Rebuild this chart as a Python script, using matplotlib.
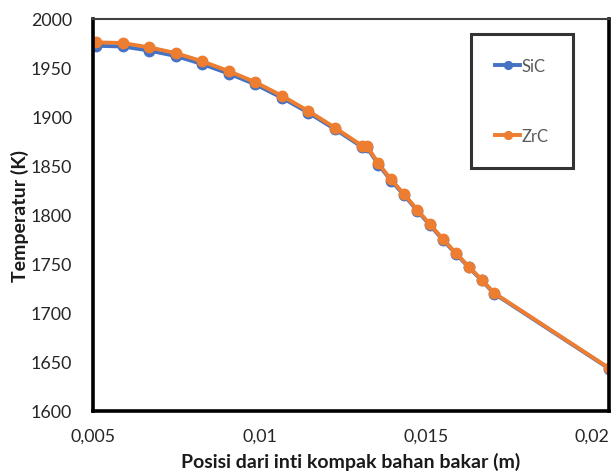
import matplotlib
matplotlib.use("Agg")
import matplotlib.pyplot as plt
from matplotlib.ticker import FixedLocator, FuncFormatter

plt.rcParams['font.family'] = ['Lato', 'DejaVu Sans']

# Radial position (m) and temperature (K) for the two coating materials
posisi = [0.00509, 0.00589, 0.00669, 0.00748, 0.00828, 0.00909, 0.00988,
          0.01067, 0.01147, 0.01227, 0.01308, 0.01323, 0.01357, 0.01395,
          0.01435, 0.01474, 0.01512, 0.01551, 0.01590, 0.01629, 0.01668,
          0.01705, 0.02050]
suhu_zrc = [1975.7, 1975.0, 1970.6, 1964.8, 1956.4, 1946.2, 1935.0,
            1921.3, 1905.7, 1888.7, 1870.4, 1870.0, 1852.4, 1836.0,
            1820.8, 1805.1, 1790.3, 1775.3, 1761.0, 1747.1, 1733.7,
            1720.3, 1643.8]
suhu_sic = [1972.2, 1971.5, 1967.3, 1961.8, 1953.6, 1943.7, 1932.8,
            1919.3, 1904.0, 1887.2, 1869.1, 1868.7, 1851.2, 1834.9,
            1819.8, 1804.1, 1789.4, 1774.4, 1760.2, 1746.3, 1733.0,
            1719.6, 1643.3]

x_ticks = [0.005, 0.01, 0.015, 0.02]
y_ticks = [1600, 1650, 1700, 1750, 1800, 1850, 1900, 1950, 2000]

fig = plt.figure(figsize=(6.12, 4.77), dpi=100)
ax = fig.add_axes([93 / 612, 1 - 412 / 477, (609 - 93) / 612, (412 - 19.5) / 477])

ax.plot(posisi, suhu_sic, color='#4472C4', lw=2.8, marker='o', ms=7.5,
        mec='#4472C4', mfc='#4472C4', label='SiC', zorder=3)
ax.plot(posisi, suhu_zrc, color='#ED7D31', lw=2.8, marker='o', ms=7.5,
        mec='#ED7D31', mfc='#ED7D31', label='ZrC', zorder=4)

ax.set_xlim(0.005, 0.0205)
ax.set_ylim(1600, 2000)
ax.xaxis.set_major_locator(FixedLocator(x_ticks))
ax.yaxis.set_major_locator(FixedLocator(y_ticks))
ax.xaxis.set_major_formatter(FuncFormatter(lambda v, p: ('%g' % v).replace('.', ',')))
ax.yaxis.set_major_formatter(FuncFormatter(lambda v, p: '%d' % v))
ax.tick_params(axis='both', length=0, labelsize=12.8, colors='#262626')
ax.tick_params(axis='x', pad=12)
ax.tick_params(axis='y', pad=15)

for side in ['left', 'bottom', 'right']:
    ax.spines[side].set_linewidth(2.6)
    ax.spines[side].set_color('black')
ax.spines['top'].set_linewidth(1.5)
ax.spines['top'].set_color('#404040')
for s in ax.spines.values():
    s.set_zorder(5)

ax.set_xlabel('Posisi dari inti kompak bahan bakar (m)', fontsize=14,
              fontweight='bold', color='#1a1a1a', labelpad=6)
ax.set_ylabel('Temperatur (K)', fontsize=14, fontweight='bold',
              color='#1a1a1a', labelpad=1)

leg = ax.legend(loc='upper left', bbox_to_anchor=(471 / 612, 1 - 35 / 477),
                bbox_transform=fig.transFigure, borderaxespad=0,
                fontsize=12, frameon=True, fancybox=False, borderpad=1.45,
                labelspacing=3.2, handlelength=1.5, handletextpad=0.1,
                markerscale=0.75)
leg.get_frame().set_edgecolor('black')
leg.get_frame().set_linewidth(2.2)
for t in leg.get_texts():
    t.set_color('#595959')

fig.savefig('out.png', dpi=100)
